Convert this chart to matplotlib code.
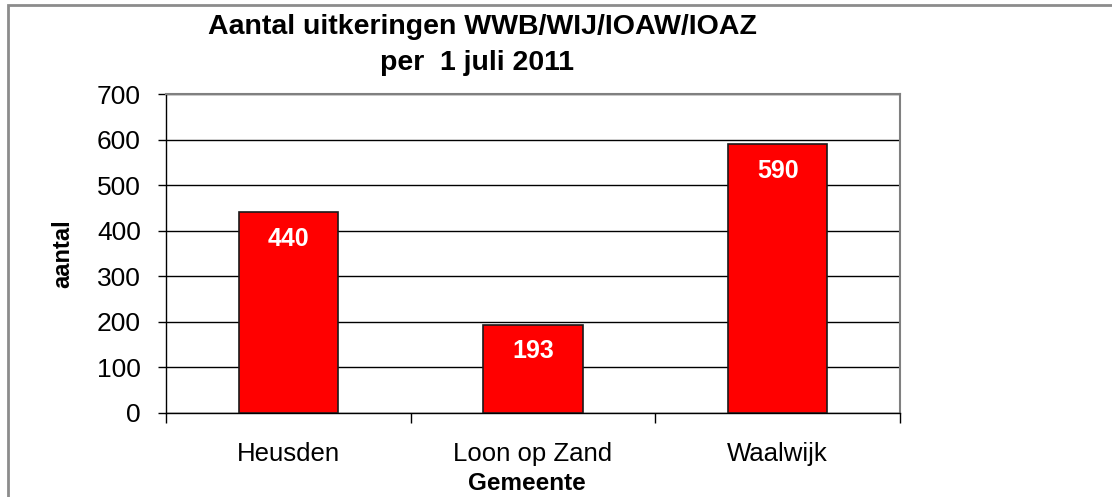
import matplotlib.pyplot as plt
from matplotlib.patches import Rectangle

plt.rcParams['font.family'] = ['Liberation Sans', 'DejaVu Sans']

gemeenten = ['Heusden', 'Loon op Zand', 'Waalwijk']
aantallen = [440, 193, 590]
y_ticks = [0, 100, 200, 300, 400, 500, 600, 700]

fig = plt.figure(figsize=(11.12, 4.97), dpi=100)

# grey frame round the chart area
fig.patches.append(Rectangle((8 / 1112, -0.05), 1.2, 1 - 5 / 497 + 0.05,
                             transform=fig.transFigure, fill=False,
                             edgecolor='#8c8c8c', linewidth=2, zorder=0))

ax = fig.add_axes([166 / 1112, 1 - 413 / 497, 734 / 1112, 319 / 497])

x = list(range(len(gemeenten)))
bars = ax.bar(x, aantallen, width=0.405, color='#ff0000',
              edgecolor='#1a1a1a', linewidth=1.2, zorder=3)

for xi, v in zip(x, aantallen):
    ax.annotate(str(v), (xi, v), xytext=(0, -19), textcoords='offset points',
                ha='center', va='center', color='white',
                fontsize=18, fontweight='bold', zorder=4)

ax.set_xlim(-0.5, len(gemeenten) - 0.5)
ax.set_ylim(0, 700)
ax.set_yticks(y_ticks)
ax.tick_params(axis='y', labelsize=19, direction='out', length=6, width=1,
               pad=12)
ax.set_xticks(x)
ax.set_xticklabels(gemeenten, fontsize=18.5)
ax.set_xticks([-0.5, 0.5, 1.5, 2.5], minor=True)
ax.tick_params(axis='x', which='major', length=0, pad=21)
ax.tick_params(axis='x', which='minor', direction='out', length=7, width=1)

ax.yaxis.grid(True, color='black', linewidth=1, zorder=0)
ax.set_axisbelow(True)
for side in ['top', 'right']:
    ax.spines[side].set_color('#808080')
    ax.spines[side].set_linewidth(1.5)
ax.spines['left'].set_linewidth(1)
ax.spines['bottom'].set_linewidth(1)

ax.set_xlabel('Gemeente', fontsize=17.5, fontweight='bold')
ax.xaxis.label.set_va('center')
ax.xaxis.set_label_coords((527 - 166) / 734, (413 - 483) / 319)
ax.set_ylabel('aantal', fontsize=17, fontweight='bold')
ax.yaxis.label.set_va('center')
ax.yaxis.set_label_coords((63 - 166) / 734, 0.5)

fig.text(482 / 1112, 1 - 27 / 497, 'Aantal uitkeringen WWB/WIJ/IOAW/IOAZ',
         ha='center', va='center', fontsize=20.5, fontweight='bold')
fig.text(477 / 1112, 1 - 63 / 497, 'per  1 juli 2011',
         ha='center', va='center', fontsize=20.5, fontweight='bold')

fig.savefig('out.png', dpi=100)
